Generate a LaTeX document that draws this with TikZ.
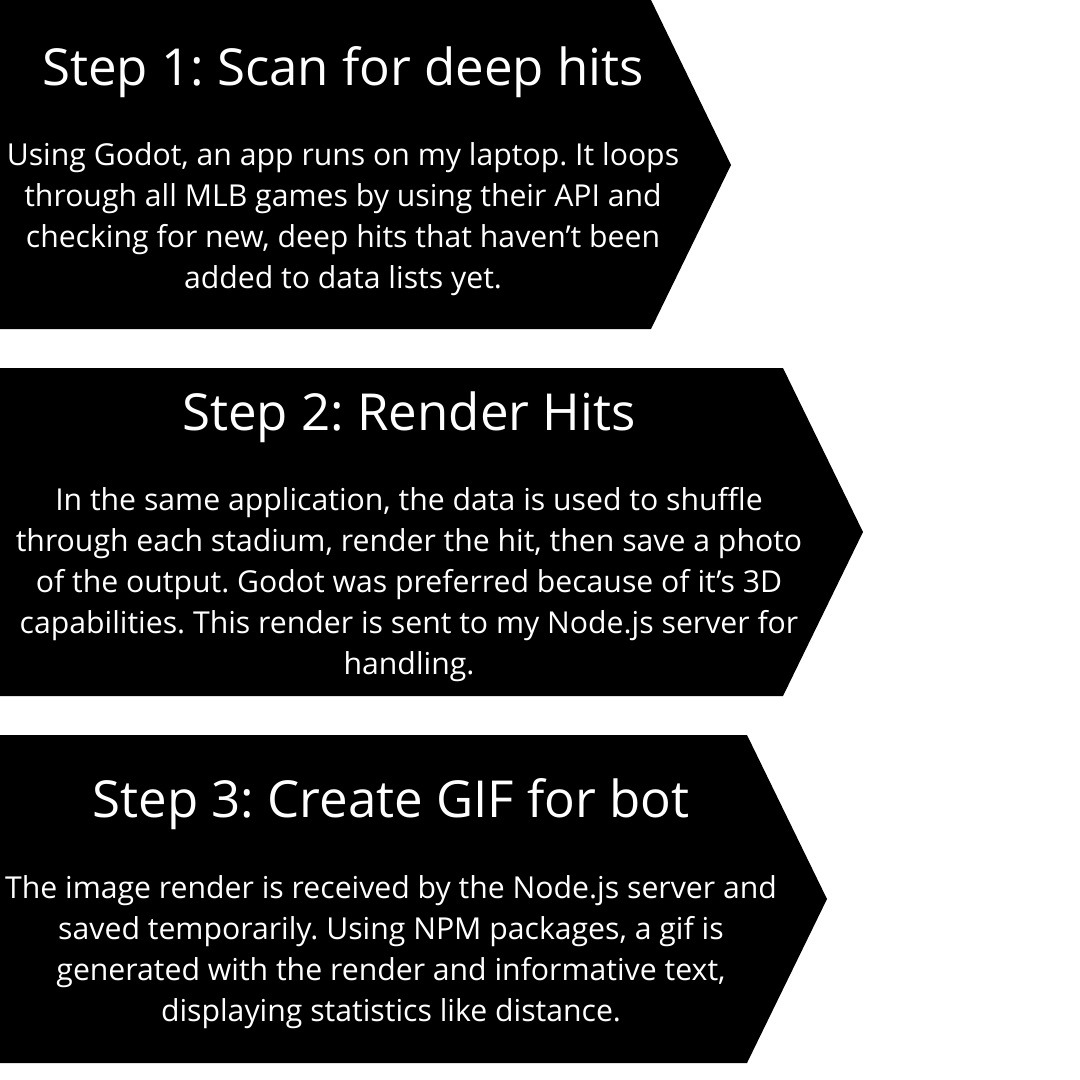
\documentclass[tikz,border=0pt]{standalone}
\usepackage{fontspec}
\setmainfont{Open Sans}
\frenchspacing
\begin{document}
\begin{tikzpicture}[x=1pt,y=-1pt,
  arrowbox/.style={fill=black,draw=none},
  titletext/.style={text=white,font=\fontsize{51}{60}\selectfont,anchor=center,inner sep=0pt},
  bodytext/.style={text=white,font=\fontsize{30.2}{41}\selectfont,align=center,anchor=center,inner sep=0pt}]
\useasboundingbox[fill=white] (0,0) rectangle (1080,1080);
% step 1
\fill[arrowbox] (0,0) -- (651,0) -- (731,165) -- (651,329) -- (0,329) -- cycle;
\node[titletext] (t1) at (343,72) {Step 1: Scan for deep hits};
\node[bodytext] (b1) at (343,219) {Using Godot, an app runs on my laptop. It loops\\through all MLB games by using their API and\\checking for new, deep hits that haven’t been\\added to data lists yet.};
% step 2
\fill[arrowbox] (0,368) -- (783,368) -- (863,532) -- (783,696) -- (0,696) -- cycle;
\node[titletext] (t2) at (409,417) {Step 2: Render Hits};
\node[bodytext] (b2) at (409,585) {In the same application, the data is used to shuffle\\through each stadium, render the hit, then save a photo\\of the output. Godot was preferred because of it’s 3D\\capabilities. This render is sent to my Node.js server for\\handling.};
% step 3
\fill[arrowbox] (0,735) -- (747,735) -- (827,899) -- (747,1063) -- (0,1063) -- cycle;
\node[titletext] (t3) at (391,804) {Step 3: Create GIF for bot};
\node[bodytext] (b3) at (391,952) {The image render is received by the Node.js server and\\saved temporarily. Using NPM packages, a gif is\\generated with the render and informative text,\\displaying statistics like distance.};
\end{tikzpicture}
\end{document}
